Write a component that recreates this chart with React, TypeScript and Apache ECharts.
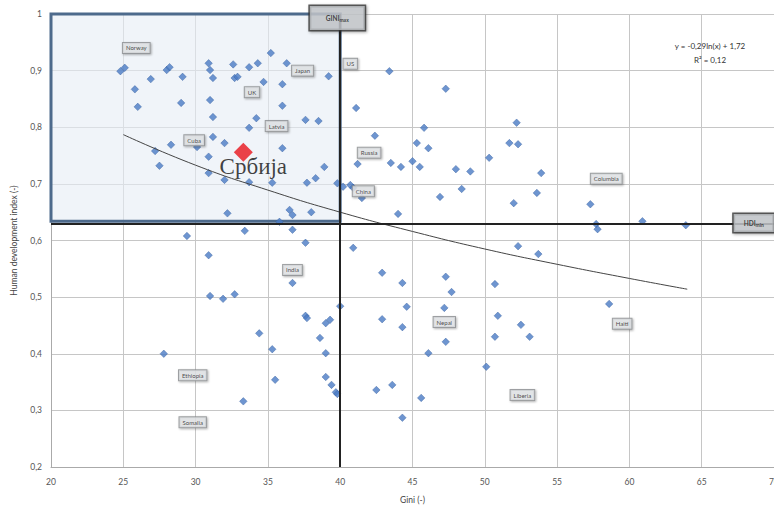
import React, { useEffect, useRef } from 'react';
import * as echarts from 'echarts';

// Country points: Gini (x) and HDI (y)
const giniValues = [
  24.8, 25.1, 25.8, 26.0, 26.9, 28.0, 28.2, 29.1, 29.0, 30.9, 31.0, 31.2, 31.0, 31.2, 32.6, 32.7, 32.9, 33.7, 34.3, 34.7,
  35.2, 36.0, 36.0, 36.3, 39.2, 34.2, 33.7, 37.6, 38.5, 28.3, 27.2, 27.5, 30.1, 30.9, 30.9, 31.2, 32.0, 32.0, 33.7, 35.3,
  36.0, 38.9, 37.7, 38.3, 39.8, 32.2, 35.8, 36.5, 36.7, 38.0,
  40.7, 40.9, 40.2, 41.5, 41.2, 42.4, 41.1, 43.4, 47.3, 45.8, 45.3, 46.1, 43.5, 44.2, 45.0, 45.5, 48.0, 49.0, 50.3, 52.2,
  51.7, 52.3, 53.9, 46.9, 48.4, 52.0, 53.6, 44.0, 57.3, 57.7, 57.8, 60.9, 63.9,
  33.4, 29.4, 36.7, 37.6, 40.9, 52.3, 53.7, 30.9, 42.9, 36.7, 44.3, 47.3, 47.7, 50.7, 31.0, 31.9, 32.7, 40.0, 37.6, 37.7,
  39.0, 39.3, 42.9, 44.6, 47.2, 44.3, 47.3, 46.1, 50.9, 52.5, 50.7, 53.1, 58.6, 34.4, 38.6, 35.3, 39.0, 27.8, 39.0, 35.5,
  39.4, 39.7, 39.8, 42.5, 43.6, 33.3, 50.1, 45.6, 44.3,
];
const hdiValues = [
  0.899, 0.905, 0.867, 0.836, 0.885, 0.901, 0.906, 0.889, 0.843, 0.913, 0.901, 0.887, 0.848, 0.818, 0.911, 0.887, 0.889, 0.906, 0.913, 0.88,
  0.931, 0.876, 0.838, 0.913, 0.89, 0.816, 0.799, 0.813, 0.811, 0.769, 0.758, 0.732, 0.765, 0.748, 0.719, 0.783, 0.772, 0.707, 0.703, 0.702,
  0.763, 0.73, 0.702, 0.71, 0.701, 0.648, 0.633, 0.654, 0.645, 0.65,
  0.698, 0.693, 0.695, 0.675, 0.735, 0.785, 0.834, 0.899, 0.868, 0.799, 0.772, 0.763, 0.737, 0.73, 0.74, 0.73, 0.726, 0.722, 0.746, 0.808,
  0.772, 0.77, 0.719, 0.677, 0.691, 0.666, 0.684, 0.647, 0.664, 0.629, 0.62, 0.634, 0.627,
  0.617, 0.608, 0.619, 0.596, 0.587, 0.59, 0.576, 0.574, 0.543, 0.525, 0.525, 0.536, 0.509, 0.523, 0.502, 0.497, 0.505, 0.484, 0.467, 0.463,
  0.454, 0.46, 0.461, 0.483, 0.481, 0.447, 0.421, 0.401, 0.467, 0.451, 0.43, 0.43, 0.488, 0.436, 0.428, 0.408, 0.401, 0.4, 0.359, 0.354,
  0.345, 0.332, 0.329, 0.336, 0.345, 0.316, 0.377, 0.322, 0.287,
];

// Logarithmic trend line (y = -0,29ln(x) + 1,72)
const trendGini = [25, 30, 35, 40, 45, 50, 55, 60, 64];
const trendHdi = [0.787, 0.733, 0.689, 0.65, 0.616, 0.585, 0.558, 0.533, 0.514];

// Country name boxes
const labelNames = ['Norway', 'Japan', 'UK', 'Latvia', 'Cuba', 'US', 'Russia', 'China', 'Columbia', 'India', 'Ethiopia', 'Somalia', 'Nepal', 'Liberia', 'Haiti'];
const labelGini = [25.9, 37.4, 33.9, 35.6, 29.9, 40.7, 42.0, 41.6, 58.4, 36.7, 29.8, 29.8, 47.2, 52.6, 59.5];
const labelHdi = [0.94, 0.9, 0.862, 0.802, 0.777, 0.912, 0.755, 0.687, 0.709, 0.548, 0.362, 0.279, 0.456, 0.327, 0.453];

// Serbia
const serbiaName = 'Србија';
const serbiaPoint = [33.3, 0.756];

// Thresholds
const GINI_MAX = 40;
const HDI_MIN = 0.634;

const xTicks = { min: 20, max: 70, interval: 5 };
const yTicks = { min: 0.2, max: 1, interval: 0.1 };

const FONT = 'Lato, "Open Sans", sans-serif';

export default function App() {
  const ref = useRef<HTMLDivElement>(null);

  useEffect(() => {
    if (!ref.current) return;
    const chart = echarts.init(ref.current, undefined, { renderer: 'svg' });

    const points = giniValues.map((g, i) => [g, hdiValues[i]]);
    const trend = trendGini.map((g, i) => [g, trendHdi[i]]);
    const labels = labelNames.map((n, i) => ({ name: n, value: [labelGini[i], labelHdi[i]] }));

    const boxLabel = {
      show: true,
      position: 'inside',
      formatter: '{b}',
      fontSize: 6,
      fontFamily: FONT,
      color: '#222',
      backgroundColor: '#e4e6e8',
      borderColor: '#8a8c8e',
      borderWidth: 1,
      padding: [2, 3, 2, 3],
      shadowColor: 'rgba(0,0,0,0.35)',
      shadowBlur: 2,
      shadowOffsetX: 1,
      shadowOffsetY: 1,
    };

    const thresholdLabel = (main: string, sub: string, pad: number[]) => ({
      show: true,
      position: 'inside',
      formatter: `{a|${main}}{b|${sub}}`,
      backgroundColor: '#c5c9cd',
      borderColor: '#333',
      borderWidth: 1.5,
      padding: pad,
      shadowColor: 'rgba(0,0,0,0.4)',
      shadowBlur: 3,
      shadowOffsetX: 1,
      shadowOffsetY: 1,
      rich: {
        a: { fontSize: 6.5, fontWeight: 'bold', color: '#222', fontFamily: FONT },
        b: { fontSize: 5, fontWeight: 'bold', color: '#222', fontFamily: FONT, padding: [4, 0, 0, 0] },
      },
    });

    const fmt = (v: number) => (Math.abs(v - 1) < 1e-9 ? '1' : v.toFixed(1).replace('.', ','));

    chart.setOption({
      animation: false,
      backgroundColor: '#ffffff',
      grid: { left: 51, right: 0, top: 14, bottom: 41, containLabel: false, outerBoundsMode: 'none' },
      xAxis: {
        type: 'value',
        min: xTicks.min,
        max: xTicks.max,
        interval: xTicks.interval,
        name: 'Gini (-)',
        nameLocation: 'middle',
        nameGap: 28,
        nameTextStyle: { fontSize: 8.5, color: '#444', fontFamily: FONT },
        axisLine: { show: true, lineStyle: { color: '#aaaaaa', width: 1 } },
        axisTick: { show: false },
        axisLabel: { fontSize: 8.5, color: '#555', fontFamily: FONT, margin: 10 },
        splitLine: { show: true, lineStyle: { color: '#c6c6c6', width: 1 } },
      },
      yAxis: {
        type: 'value',
        min: yTicks.min,
        max: yTicks.max,
        interval: yTicks.interval,
        name: 'Human development index (-)',
        nameLocation: 'middle',
        nameGap: 33,
        nameTextStyle: { fontSize: 8.5, color: '#444', fontFamily: FONT },
        axisLine: { show: true, lineStyle: { color: '#aaaaaa', width: 1 } },
        axisTick: { show: false },
        axisLabel: { fontSize: 8.5, color: '#555', fontFamily: FONT, margin: 9, formatter: fmt },
        splitLine: { show: true, lineStyle: { color: '#c6c6c6', width: 1 } },
      },
      graphic: [
        {
          type: 'text',
          x: 710,
          y: 46,
          z: 100,
          style: {
            text: 'y = -0,29ln(x) + 1,72',
            fontSize: 8,
            fontFamily: FONT,
            fill: '#333',
            textAlign: 'center',
            textVerticalAlign: 'middle',
          },
        },
        {
          type: 'text',
          x: 710,
          y: 60,
          z: 100,
          style: {
            text: 'R² = 0,12',
            fontSize: 8,
            fontFamily: FONT,
            fill: '#333',
            textAlign: 'center',
            textVerticalAlign: 'middle',
          },
        },
      ],
      series: [
        {
          type: 'scatter',
          z: 2,
          symbol: 'diamond',
          symbolSize: 7.5,
          itemStyle: { color: '#4a7bc4', borderColor: '#2f5a9a', borderWidth: 0.5 },
          data: points,
          silent: true,
        },
        {
          type: 'line',
          z: 3,
          data: [],
          markArea: {
            silent: true,
            itemStyle: { color: 'rgba(230,237,245,0.62)', borderColor: '#4d6a8c', borderWidth: 3 },
            data: [[{ coord: [xTicks.min, HDI_MIN] }, { coord: [GINI_MAX, yTicks.max] }]],
          },
        },
        {
          type: 'line',
          z: 4,
          data: trend,
          smooth: true,
          symbol: 'none',
          lineStyle: { color: '#444', width: 1 },
          silent: true,
        },
        {
          type: 'line',
          z: 5,
          data: [],
          markLine: {
            silent: true,
            symbol: 'none',
            label: { show: false },
            lineStyle: { color: '#222', width: 2, type: 'solid' },
            data: [{ xAxis: GINI_MAX }, { yAxis: HDI_MIN }],
          },
        },
        {
          type: 'scatter',
          z: 6,
          symbolSize: 1,
          itemStyle: { color: 'rgba(0,0,0,0)' },
          label: boxLabel,
          data: labels,
          silent: true,
        },
        {
          type: 'scatter',
          z: 7,
          symbolSize: 1,
          itemStyle: { color: 'rgba(0,0,0,0)' },
          data: [
            { name: 'gini', value: [39.8, 0.993], label: thresholdLabel('GINI', 'max', [8, 16, 7, 16]) },
            { name: 'hdi', value: [68.6, 0.631], label: thresholdLabel('HDI', 'min', [5, 10, 4, 10]) },
          ],
          silent: true,
          clip: false,
        },
        {
          type: 'scatter',
          z: 8,
          symbol: 'diamond',
          symbolSize: 19,
          itemStyle: { color: '#e8141b' },
          label: {
            show: true,
            position: 'inside',
            offset: [10, 14],
            formatter: serbiaName,
            fontSize: 23,
            fontFamily: '"Liberation Serif", "DejaVu Serif", serif',
            color: '#111',
          },
          data: [serbiaPoint],
          silent: true,
        },
      ],
    });

    return () => chart.dispose();
  }, []);

  return (
    <div
      ref={ref}
      style={{ position: 'absolute', left: 0, top: 0, width: 774, height: 508, background: '#fff' }}
    />
  );
}
